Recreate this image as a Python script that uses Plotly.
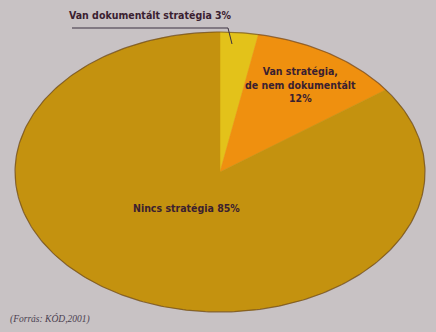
import numpy as np
import plotly.graph_objects as go

labels = ["Van dokumentált stratégia", "Van stratégia, de nem dokumentált", "Nincs stratégia"]
values = [3, 12, 85]
colors = ["#e3c21a", "#ef900f", "#c4920f"]
text_labels = ["Van dokumentált stratégia 3%", "Van stratégia,<br>de nem dokumentált<br>12%", "Nincs stratégia 85%"]
source = "(Forrás: KÓD,2001)"

W, H = 436, 332
cx, cy, a, b = 220, 172, 205, 140  # ellipse geometry in pixels

fig = go.Figure()
total = sum(values)
start = 0.0
for lab, v, c in zip(labels, values, colors):
    frac0 = start / total
    frac1 = (start + v) / total
    th = np.linspace(frac0, frac1, max(int(v * 6), 10)) * 2 * np.pi
    xs = np.concatenate([[0], np.sin(th), [0]])
    ys = np.concatenate([[0], np.cos(th), [0]])
    fig.add_trace(go.Scatter(x=xs, y=ys, mode="lines", fill="toself", fillcolor=c,
                             line=dict(color=c, width=0.5), name=lab, hoverinfo="name"))
    start += v

# outline
tt = np.linspace(0, 2 * np.pi, 400)
fig.add_trace(go.Scatter(x=np.sin(tt), y=np.cos(tt), mode="lines",
                         line=dict(color="rgba(80,50,30,0.55)", width=1.2), hoverinfo="skip"))

fnt = dict(family="DejaVu Sans Condensed, Liberation Sans Narrow, Arial Narrow, sans-serif",
           size=10.5, color="#3a2030")

def px(x):
    return (x - cx) / a

def py(y):
    return (cy - y) / b

fig.add_annotation(x=px(150), y=py(15), text="<b>" + text_labels[0] + "</b>", showarrow=False, font=fnt)
fig.add_annotation(x=px(300), y=py(84), text="<b>" + text_labels[1] + "</b>", showarrow=False, font=fnt)
fig.add_annotation(x=px(186), y=py(208), text="<b>" + text_labels[2] + "</b>", showarrow=False, font=fnt)
fig.add_annotation(x=px(8), y=py(319), text=source, showarrow=False, xanchor="left",
                   font=dict(family="Liberation Serif, DejaVu Serif", size=9.5, color="#4a4050",
                             style="italic"))

# leader line for small slice
fig.add_shape(type="path", xref="x", yref="y",
              path=f"M {px(72)} {py(28)} L {px(228)} {py(28)} L {px(232)} {py(44)}",
              line=dict(color="#3a3040", width=1))

fig.update_layout(
    width=W, height=H, margin=dict(l=0, r=0, t=0, b=0),
    paper_bgcolor="#c8c2c4", plot_bgcolor="#c8c2c4", showlegend=False,
    xaxis=dict(range=[px(0), px(W)], visible=False, fixedrange=True),
    yaxis=dict(range=[py(H), py(0)], visible=False, fixedrange=True),
)
fig.write_html("out.html")
